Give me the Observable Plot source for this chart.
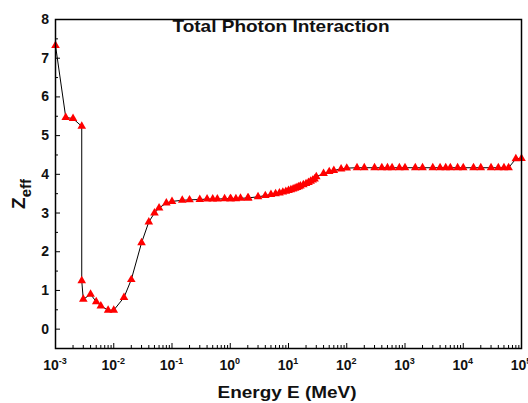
<!DOCTYPE html>
<html><head><meta charset="utf-8">
<script src="https://cdn.jsdelivr.net/npm/d3@7"></script>
<script src="https://cdn.jsdelivr.net/npm/@observablehq/plot@0.6"></script>
<style>body{margin:0;background:#fff;}</style>
</head><body><div id="chart"></div>
<script>
const energy = [1e-3, 1.5e-3, 2e-3, 2.8224e-3, 2.8224e-3, 3e-3, 4e-3, 5e-3, 6e-3, 8e-3,
  1e-2, 1.5e-2, 2e-2, 3e-2, 4e-2, 5e-2, 6e-2, 8e-2, 0.1, 0.15, 0.2, 0.3, 0.4, 0.5, 0.6, 0.8,
  1, 1.022, 1.25, 1.5, 2, 2.044, 3, 4, 5, 6, 7, 8, 9, 10, 11, 12, 13, 14, 15, 16, 18, 20, 22,
  24, 26, 28, 30, 40, 50, 60, 80, 100, 150, 200, 300, 400, 500, 600, 800, 1000, 1500, 2000,
  3000, 4000, 5000, 6000, 8000, 10000, 15000, 20000, 30000, 40000, 50000, 60000, 80000, 100000];
const zeff = [7.33, 5.47, 5.44, 5.24, 1.25, 0.77, 0.90, 0.71, 0.60, 0.49,
  0.49, 0.82, 1.28, 2.23, 2.77, 3.00, 3.13, 3.26, 3.30, 3.33, 3.34, 3.35, 3.36, 3.36, 3.36, 3.37,
  3.37, 3.37, 3.37, 3.38, 3.39, 3.39, 3.42, 3.45, 3.48, 3.50, 3.52, 3.54, 3.56, 3.58, 3.60, 3.62, 3.64, 3.66, 3.68, 3.70, 3.73, 3.76, 3.79,
  3.82, 3.85, 3.88, 3.94, 4.02, 4.07, 4.10, 4.14, 4.16, 4.17, 4.17, 4.17, 4.17, 4.17, 4.17, 4.17, 4.17, 4.17, 4.17,
  4.17, 4.17, 4.17, 4.17, 4.17, 4.17, 4.17, 4.17, 4.17, 4.17, 4.17, 4.17, 4.40, 4.41];
const xExponents = [-3, -2, -1, 0, 1, 2, 3, 4, 5];
const xMinorMultipliers = [2, 3, 4, 5, 6, 7, 8, 9];
const yTicks = [0, 1, 2, 3, 4, 5, 6, 7, 8];
const yMinor = [0.5, 1.5, 2.5, 3.5, 4.5, 5.5, 6.5, 7.5];
const titleText = "Total Photon Interaction";
const xLabel = "Energy E (MeV)";

const data = energy.map((e, i) => ({e, z: zeff[i]}));
const xMajor = xExponents.map(p => 10 ** p);
const xMinor = xExponents.slice(0, -1).flatMap(p => xMinorMultipliers.map(m => m * 10 ** p));

const font = "Liberation Sans, Arial, sans-serif";
const chart = Plot.plot({
  width: 528, height: 403,
  marginLeft: 55, marginRight: 7, marginTop: 19, marginBottom: 55,
  x: {type: "log", domain: [1e-3, 1e5]},
  y: {domain: [-0.5, 8]},
  style: {fontFamily: font, background: "white"},
  marks: [
    Plot.line(data, {x: "e", y: "z", stroke: "black", strokeWidth: 1}),
    Plot.dot(data, {x: "e", y: "z", symbol: "triangle", r: 3.2, fill: "red", stroke: "none"}),
    Plot.axisX(xMajor, {tickSize: -5, tickFormat: () => "", label: null, strokeWidth: 1}),
    Plot.axisX(xMinor, {tickSize: -3, tickFormat: () => "", label: null, strokeWidth: 1}),
    Plot.axisY(yTicks, {tickSize: -5, tickFormat: () => "", label: null, strokeWidth: 1}),
    Plot.axisY(yMinor, {tickSize: -3, tickFormat: () => "", label: null, strokeWidth: 1}),
    Plot.frame({stroke: "black", strokeWidth: 1.5})
  ]
});
document.getElementById("chart").appendChild(chart);

const sx = chart.scale("x"), sy = chart.scale("y");
const svg = d3.select(chart);
const g = svg.append("g").attr("font-family", font).attr("font-weight", "bold").attr("fill", "#111");
xExponents.forEach(p => {
  const t = g.append("text").attr("x", sx.apply(10 ** p)).attr("y", 370)
    .attr("text-anchor", "middle").attr("font-size", 14);
  t.append("tspan").text("10");
  t.append("tspan").attr("dy", -6).attr("font-size", 9).text(String(p));
});
yTicks.forEach(v => {
  g.append("text").attr("x", 49).attr("y", sy.apply(v)).attr("dy", "0.36em")
    .attr("text-anchor", "end").attr("font-size", 14).text(String(v));
});
const yl = g.append("text").attr("transform", "translate(25,194) rotate(-90)")
  .attr("text-anchor", "middle");
yl.append("tspan").attr("font-size", 19).text("Z");
yl.append("tspan").attr("font-size", 15).attr("dy", 6).text("eff");
g.append("text").attr("x", 281).attr("y", 31.5).attr("text-anchor", "middle")
  .attr("font-size", 16.5).attr("textLength", 217).attr("lengthAdjust", "spacingAndGlyphs").text(titleText);
g.append("text").attr("x", 287).attr("y", 398).attr("text-anchor", "middle")
  .attr("font-size", 16.5).attr("textLength", 139).attr("lengthAdjust", "spacingAndGlyphs").text(xLabel);
</script>
</body></html>
